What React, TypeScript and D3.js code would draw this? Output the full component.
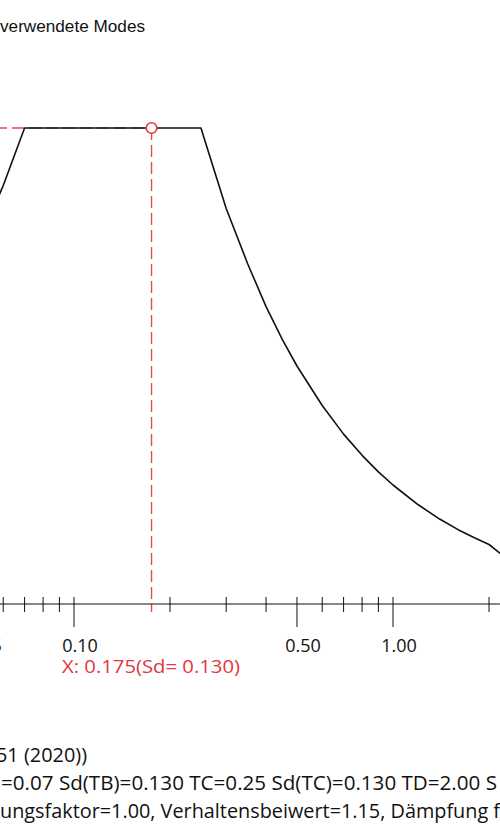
import React from "react";
import * as d3 from "d3";

const W = 500;
const H = 839;

// spectrum samples: period T [s], Sd
const periods = [0.05, 0.06, 0.07, 0.25, 0.3, 0.35, 0.4, 0.45, 0.5, 0.6, 0.7, 0.8, 0.9, 1.0, 1.2, 1.4, 1.6, 1.8, 2.0, 2.2];
const sdValues = [0.098, 0.1143, 0.13, 0.13, 0.108, 0.093, 0.0812, 0.0722, 0.065, 0.0542, 0.0464, 0.0406, 0.0361, 0.0325, 0.0271, 0.0232, 0.0203, 0.0181, 0.01625, 0.0134];

const majorTicks = [0.05, 0.1, 0.5, 1, 5];
const majorLabels = ["0.05", "0.10", "0.50", "1.00", "5.00"];
const minorTicks = [0.02, 0.03, 0.04, 0.06, 0.07, 0.08, 0.09, 0.2, 0.3, 0.4, 0.6, 0.7, 0.8, 0.9, 2, 3, 4];

const markerT = 0.175;
const markerSd = 0.13;

const titleText = "verwendete Modes";
const markerLabel = "X: 0.175(Sd= 0.130)";
const footerLines = [
  "51 (2020))",
  "=0.07 Sd(TB)=0.130 TC=0.25 Sd(TC)=0.130 TD=2.00 S",
  "ungsfaktor=1.00, Verhaltensbeiwert=1.15, Dämpfung f",
];
const footerX = [-4, 1, 0];
const footerLen = [91, 496, 500];

const RED = "#e2373c";

export default function App() {
  const x = d3.scaleLog().domain([0.1, 1]).range([74, 393]);
  const y = d3.scaleLinear().domain([0, 0.13]).range([604, 128]);
  const axisY = y(0);

  const pts: [number, number][] = periods.map((t, i) => [t, sdValues[i]]);
  const line = d3
    .line<[number, number]>()
    .x((d) => x(d[0]))
    .y((d) => y(d[1]));

  const mx = x(markerT);
  const my = y(markerSd);
  const uiFont = "'Open Sans', 'Noto Sans', sans-serif";

  return (
    <svg
      width={W}
      height={H}
      viewBox={`0 0 ${W} ${H}`}
      style={{ position: "absolute", left: 0, top: 0, background: "#fff" }}
    >
      <rect x={0} y={0} width={W} height={H} fill="#fff" />
      <text
        x={0}
        y={32}
        textLength={145}
        lengthAdjust="spacingAndGlyphs"
        fontFamily="'Liberation Sans', Arial, sans-serif"
        fontSize={16}
        fill="#111"
      >
        {titleText}
      </text>

      {/* marker guides */}
      <line x1={-5} x2={mx} y1={my} y2={my} stroke={RED} strokeWidth={1.4} strokeDasharray="12,5" opacity={0.9} />
      <line x1={mx} x2={mx} y1={my} y2={612} stroke={RED} strokeWidth={1.4} strokeDasharray="12,5" opacity={0.9} />

      {/* spectrum curve */}
      <path d={line(pts) || ""} fill="none" stroke="#111" strokeWidth={1.6} strokeLinejoin="round" />

      <circle cx={mx} cy={my} r={5.3} fill="#fff" stroke={RED} strokeWidth={1.6} />

      {/* x axis */}
      <line x1={0} x2={W} y1={axisY} y2={axisY} stroke="#111" strokeWidth={1} />
      {minorTicks.map((t) => (
        <line key={"mi" + t} x1={x(t)} x2={x(t)} y1={axisY - 7} y2={axisY + 8} stroke="#111" strokeWidth={1} />
      ))}
      {majorTicks.map((t, i) => (
        <g key={"ma" + t}>
          <line x1={x(t)} x2={x(t)} y1={axisY - 7} y2={axisY + 23} stroke="#111" strokeWidth={1} />
          <text x={x(t) + 6} y={652} textAnchor="middle" fontFamily={uiFont} fontSize={18} fill="#111">
            {majorLabels[i]}
          </text>
        </g>
      ))}

      <text
        x={62}
        y={673}
        textLength={178}
        lengthAdjust="spacingAndGlyphs"
        fontFamily={uiFont}
        fontSize={19}
        fill={RED}
      >
        {markerLabel}
      </text>

      {footerLines.map((s, i) => (
        <text
          key={i}
          x={footerX[i]}
          y={762 + i * 28}
          textLength={footerLen[i]}
          lengthAdjust="spacingAndGlyphs"
          fontFamily={uiFont}
          fontSize={19.5}
          fill="#111"
        >
          {s}
        </text>
      ))}
    </svg>
  );
}
